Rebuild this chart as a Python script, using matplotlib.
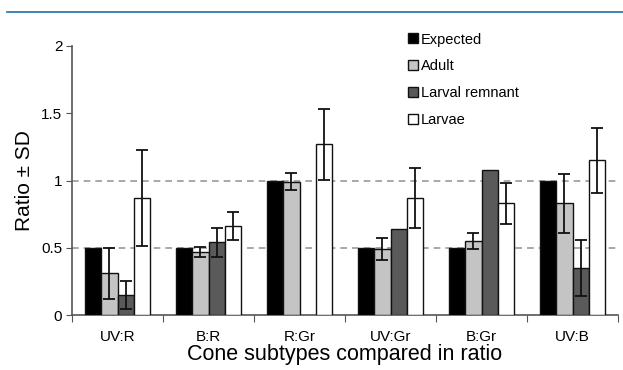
import numpy as np
import matplotlib
matplotlib.use("Agg")
import matplotlib.pyplot as plt
from matplotlib.lines import Line2D

plt.rcParams["font.family"] = ["Liberation Sans", "DejaVu Sans"]

# ── data ─────────────────────────────────────────────────────────────────────
categories = ["UV:R", "B:R", "R:Gr", "UV:Gr", "B:Gr", "UV:B"]
series = ["Expected", "Adult", "Larval remnant", "Larvae"]

expected = [0.5, 0.5, 1.0, 0.5, 0.5, 1.0]
adult = [0.31, 0.47, 0.99, 0.49, 0.55, 0.83]
adult_sd = [0.19, 0.037, 0.063, 0.08, 0.058, 0.22]
remnant = [0.15, 0.54, np.nan, 0.64, 1.08, 0.35]
remnant_sd = [0.105, 0.11, np.nan, np.nan, np.nan, 0.21]
larvae = [0.87, 0.66, 1.27, 0.87, 0.83, 1.15]
larvae_sd = [0.36, 0.106, 0.265, 0.225, 0.15, 0.24]

colors = ["#000000", "#c4c4c4", "#5a5a5a", "#ffffff"]

# ── plot ─────────────────────────────────────────────────────────────────────
fig = plt.figure(figsize=(6.23, 3.70), dpi=100)
ax = fig.add_axes([0.1156, 0.1486, 0.8764, 0.7271])

x = np.arange(len(categories))
w = 0.18
vals = [expected, adult, remnant, larvae]
errs = [None, adult_sd, remnant_sd, larvae_sd]

for i, (v, e, c, lab) in enumerate(zip(vals, errs, colors, series)):
    pos = x + (i - 1.5) * w
    ax.bar(pos, v, width=w, color=c, edgecolor="#111111", linewidth=1.0,
           label=lab, zorder=3)
    if e is not None:
        ax.errorbar(pos, v, yerr=e, fmt="none", ecolor="#111111",
                    elinewidth=1.3, capsize=4, capthick=1.3, zorder=4)

for yv in (0.5, 1.0):
    ax.axhline(yv, color="#999999", linestyle=(0, (4, 3)), linewidth=1.2, zorder=1)

ax.set_xlim(-0.5, len(categories) - 0.5)
ax.set_ylim(0, 2)
ax.set_yticks([0, 0.5, 1, 1.5, 2])
ax.set_yticklabels(["0", "0.5", "1", "1.5", "2"])
ax.set_xticks(np.arange(len(categories) + 1) - 0.5)
ax.set_xticklabels([])
ax.set_xticks(x, minor=True)
ax.set_xticklabels(categories, minor=True)
ax.tick_params(axis="x", which="minor", length=0, pad=11, labelsize=11)
ax.tick_params(axis="x", which="major", length=5, direction="out", color="#555555")
ax.tick_params(axis="y", length=4, direction="out", color="#555555", labelsize=11,
               pad=3)

for s in ("top", "right"):
    ax.spines[s].set_visible(False)
for s in ("left", "bottom"):
    ax.spines[s].set_color("#555555")
    ax.spines[s].set_linewidth(1.2)

ax.set_ylabel("Ratio ± SD", fontsize=15, labelpad=5)
ax.set_xlabel("Cone subtypes compared in ratio", fontsize=15.5, labelpad=0)

fig.legend(*ax.get_legend_handles_labels(), loc="upper left",
           bbox_to_anchor=(0.655, 0.912), frameon=False, borderpad=0,
           borderaxespad=0, fontsize=10.5, handlelength=0.68, handleheight=0.68,
           handletextpad=0.2, labelspacing=0.88)

# blue rule across the top
fig.add_artist(Line2D([0.012, 1.0], [0.967, 0.967], color="#1f6fa8",
                      linewidth=1.2, transform=fig.transFigure))

fig.savefig("out.png", dpi=100)
